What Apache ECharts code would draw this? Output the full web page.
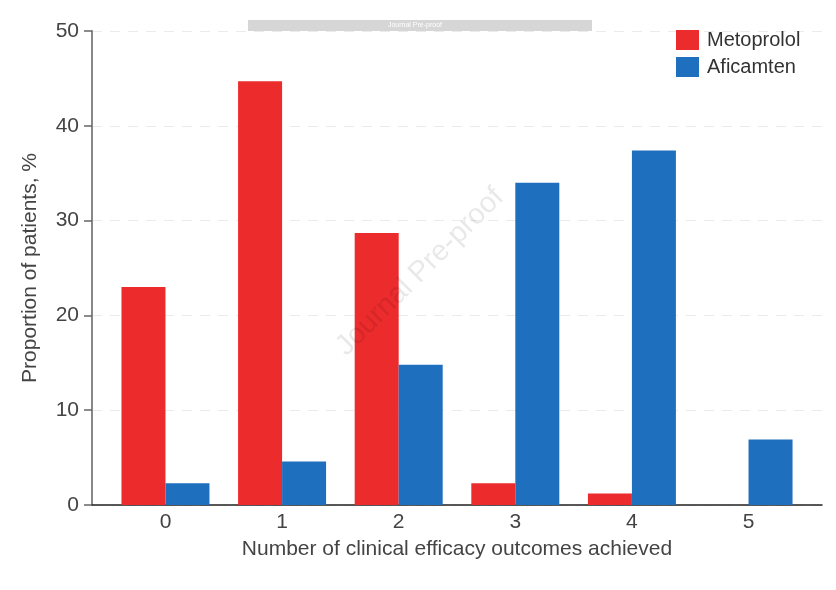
<!DOCTYPE html>
<html>
<head>
<meta charset="utf-8">
<script src="https://cdn.jsdelivr.net/npm/echarts@6/dist/echarts.min.js"></script>
<style>
html,body{margin:0;padding:0;background:#fff;}
#chart{width:836px;height:590px;}
</style>
</head>
<body>
<div id="chart"></div>
<script>
var categories = ['0', '1', '2', '3', '4', '5'];
var metoprolol = [23.0, 44.7, 28.7, 2.3, 1.2, 0];
var aficamten = [2.3, 4.6, 14.8, 34.0, 37.4, 6.9];
var yTicks = [0, 10, 20, 30, 40, 50];

function pairs(vals) {
  return vals.map(function (v, i) { return [i, v]; });
}

var chart = echarts.init(document.getElementById('chart'), null, {renderer: 'canvas'});
var font = 'Liberation Sans, Arial, sans-serif';
chart.setOption({
  animation: false,
  backgroundColor: '#fff',
  grid: {left: 92, right: 14, top: 31, bottom: 85, containLabel: false},
  legend: {
    left: 676, top: 30, padding: 0, orient: 'vertical', itemWidth: 23, itemHeight: 20, itemGap: 7,
    icon: 'rect',
    textStyle: {fontFamily: font, fontSize: 20, color: '#333', padding: [0, 0, 0, 3]},
    data: ['Metoprolol', 'Aficamten']
  },
  xAxis: {
    type: 'value', min: -0.63, max: 5.63,
    name: 'Number of clinical efficacy outcomes achieved',
    nameLocation: 'middle', nameGap: 34,
    nameTextStyle: {fontFamily: font, fontSize: 21, color: '#444'},
    axisLine: {show: true, onZero: false, lineStyle: {color: '#222', width: 1.5}},
    axisTick: {show: false},
    splitLine: {show: false},
    axisLabel: {
      customValues: [0, 1, 2, 3, 4, 5],
      formatter: function (v) { return categories[Math.round(v)]; },
      fontFamily: font, fontSize: 21, color: '#444', margin: 7
    }
  },
  yAxis: {
    type: 'value', min: yTicks[0], max: yTicks[yTicks.length - 1], interval: 10,
    name: 'Proportion of patients, %',
    nameLocation: 'middle', nameGap: 51,
    nameTextStyle: {fontFamily: font, fontSize: 21, color: '#444'},
    axisLine: {show: true, onZero: false, lineStyle: {color: '#888', width: 2}},
    axisTick: {show: true, length: 8, lineStyle: {color: '#666', width: 1.5}},
    axisLabel: {fontFamily: font, fontSize: 21, color: '#444', margin: 13},
    splitLine: {show: true, lineStyle: {color: '#ebebeb', type: [10, 8], width: 1}}
  },
  series: [
    {
      name: 'Metoprolol', type: 'bar', data: pairs(metoprolol),
      barWidth: 44, barGap: '0%',
      itemStyle: {color: '#EC2B2D'}
    },
    {
      name: 'Aficamten', type: 'bar', data: pairs(aficamten),
      barWidth: 44, barGap: '0%',
      itemStyle: {color: '#1F6FBF'}
    }
  ],
  graphic: [
    {
      type: 'rect', left: 248, top: 20, z: 10,
      shape: {width: 344, height: 11},
      style: {fill: '#d6d6d6'}
    },
    {
      type: 'text', x: 415, y: 25.5, z: 11,
      style: {text: 'Journal Pre-proof', fill: '#fff', font: '7px ' + font, textAlign: 'center', textVerticalAlign: 'middle'}
    },
    {
      type: 'text', x: 420, y: 272, rotation: Math.PI / 4, z: 12,
      style: {text: 'Journal Pre-proof', fill: 'rgba(0,0,0,0.09)', font: '29px ' + font, textAlign: 'center', textVerticalAlign: 'middle'}
    }
  ]
});
</script>
</body>
</html>
